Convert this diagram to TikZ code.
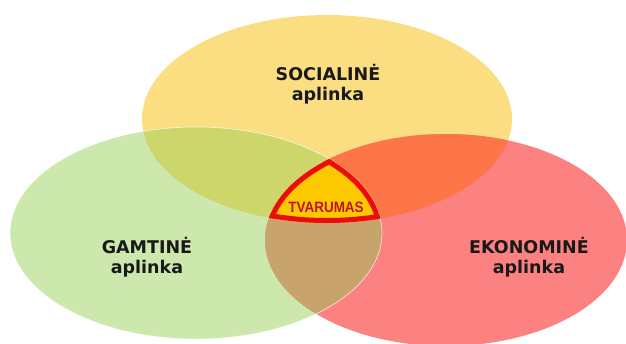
\documentclass[tikz,border=0pt]{standalone}
\usepackage{fontspec}
\newfontfamily\venfont{DejaVu Sans}
\newfontfamily\corefont{Liberation Sans}[FakeStretch=0.9]
\definecolor{socyellow}{RGB}{252,222,130}
\definecolor{gamgreen}{RGB}{204,232,172}
\definecolor{ekored}{RGB}{252,130,130}
\definecolor{socgam}{RGB}{204,214,106}
\definecolor{soceko}{RGB}{252,118,72}
\definecolor{gameko}{RGB}{200,164,108}
\definecolor{coregold}{RGB}{252,200,0}
\definecolor{corered}{RGB}{236,12,12}
\definecolor{coretext}{RGB}{192,20,28}
\def\socshape{(327,119) ellipse [x radius=185, y radius=104]}
\def\gamshape{(196,233) ellipse [x radius=186, y radius=106]}
\def\ekoshape{(446,240) ellipse [x radius=181, y radius=106]}
\tikzset{
  sphere/.style={font=\venfont\bfseries\fontsize{17.5}{20}\selectfont, align=center, text=black!90, inner sep=0pt},
  core/.style={font=\corefont\bfseries\fontsize{15}{17}\selectfont, text=coretext, inner sep=0pt}
}
\begin{document}
\begin{tikzpicture}[x=1pt, y=-1pt]
\path[use as bounding box] (0,0) rectangle (626,343);
\fill[socyellow] \socshape;
\fill[gamgreen] \gamshape;
\fill[ekored] \ekoshape;
\begin{scope}
\clip \socshape;
\fill[socgam] \gamshape;
\fill[soceko] \ekoshape;
\end{scope}
\begin{scope}
\clip \gamshape;
\fill[gameko] \ekoshape;
\end{scope}
\draw[white, opacity=0.7, line width=0.7pt] \gamshape;
\begin{scope}
\clip \socshape;
\clip \gamshape;
\clip \ekoshape;
\fill[coregold] (0,0) rectangle (626,343);
\draw[corered, line width=10pt] \socshape;
\draw[corered, line width=10pt] \gamshape;
\draw[corered, line width=10pt] \ekoshape;
\end{scope}
\node[sphere] (soc) at (328,84.5) {SOCIALINĖ\\aplinka};
\node[sphere] (gam) at (147,257) {GAMTINĖ\\aplinka};
\node[sphere] (eko) at (529,257) {EKONOMINĖ\\aplinka};
\node[core] (tva) at (326,207) {TVARUMAS};
\end{tikzpicture}
\end{document}
